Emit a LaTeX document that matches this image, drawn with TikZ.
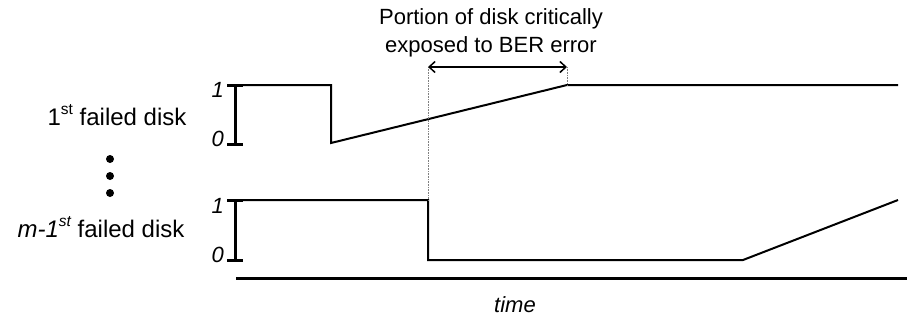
\documentclass[tikz,border=0pt]{standalone}
\usepackage{fontspec}
\setmainfont{Liberation Sans}
\usetikzlibrary{arrows.meta}
\tikzset{
  trace/.style={line width=2pt, line join=miter},
  scalebar/.style={line width=3pt},
  guide/.style={line width=0.6pt, densely dotted, gray},
  lbl/.style={inner sep=0pt, anchor=base},
  side/.style={lbl, font=\fontsize{24}{28}\selectfont},
  lvl/.style={inner sep=0pt, anchor=base east, font=\fontsize{22}{24}\selectfont\itshape}
}
\newcommand{\hi}[1]{\raisebox{0.42em}{\fontsize{15.5}{16}\selectfont #1}}
\begin{document}
\begin{tikzpicture}[x=1pt, y=-1pt, font=\fontsize{22}{28}\selectfont]
	\useasboundingbox (0,0) rectangle (907,322);
	
	%Spuren
	\coordinate (a1) at (243,85);
	\coordinate (a2) at (331,85);
	\coordinate (a3) at (331,143);
	\coordinate (a4) at (567,85);
	\coordinate (a5) at (898,85);
	\draw[trace] (a1) -- (a2) -- (a3) -- (a4) -- (a5);
	
	\coordinate (b1) at (243,200);
	\coordinate (b2) at (428,200);
	\coordinate (b3) at (428,260);
	\coordinate (b4) at (743,260);
	\coordinate (b5) at (898,200);
	\draw[trace] (b1) -- (b2) -- (b3) -- (b4) -- (b5);
	
	%Skala 0/1
	\draw[scalebar] (227,85) -- (243,85) (235,85) -- (235,144) (227,144) -- (243,144);
	\draw[scalebar] (227,200) -- (243,200) (235,200) -- (235,260) (227,260) -- (243,260);
	\node[lvl] (one1) at (224,97) {1};
	\node[lvl] (zero1) at (224,146) {0};
	\node[lvl] (one2) at (224,213) {1};
	\node[lvl] (zero2) at (224,262) {0};
	
	\node[side] (disk1) at (117,125) {1\hi{st} failed disk};
	\node[side] (diskm) at (101,237) {\textit{m-1\hi{st}} failed disk};
	\foreach \y in {159,176,193}
		\fill (110,\y) circle (4);
	
	%Zeitachse
	\draw[scalebar] (236,278) -- (907,278);
	\node[lbl] (time) at (515,312) {\textit{time}};
	
	%BER Bereich
	\coordinate (p1) at (428,67);
	\coordinate (p2) at (567,67);
	\draw[guide] (p1) -- (b2);
	\draw[guide] (p2) -- (a4);
	\draw[line width=1.5pt, {Straight Barb[length=6pt,width=11pt]}-{Straight Barb[length=6pt,width=11pt]}] (p1) -- (p2);
	\node[lbl] (ber1) at (491,24) {Portion of disk critically};
	\node[lbl] (ber2) at (491,52) {exposed to BER error};
\end{tikzpicture}
\end{document}
